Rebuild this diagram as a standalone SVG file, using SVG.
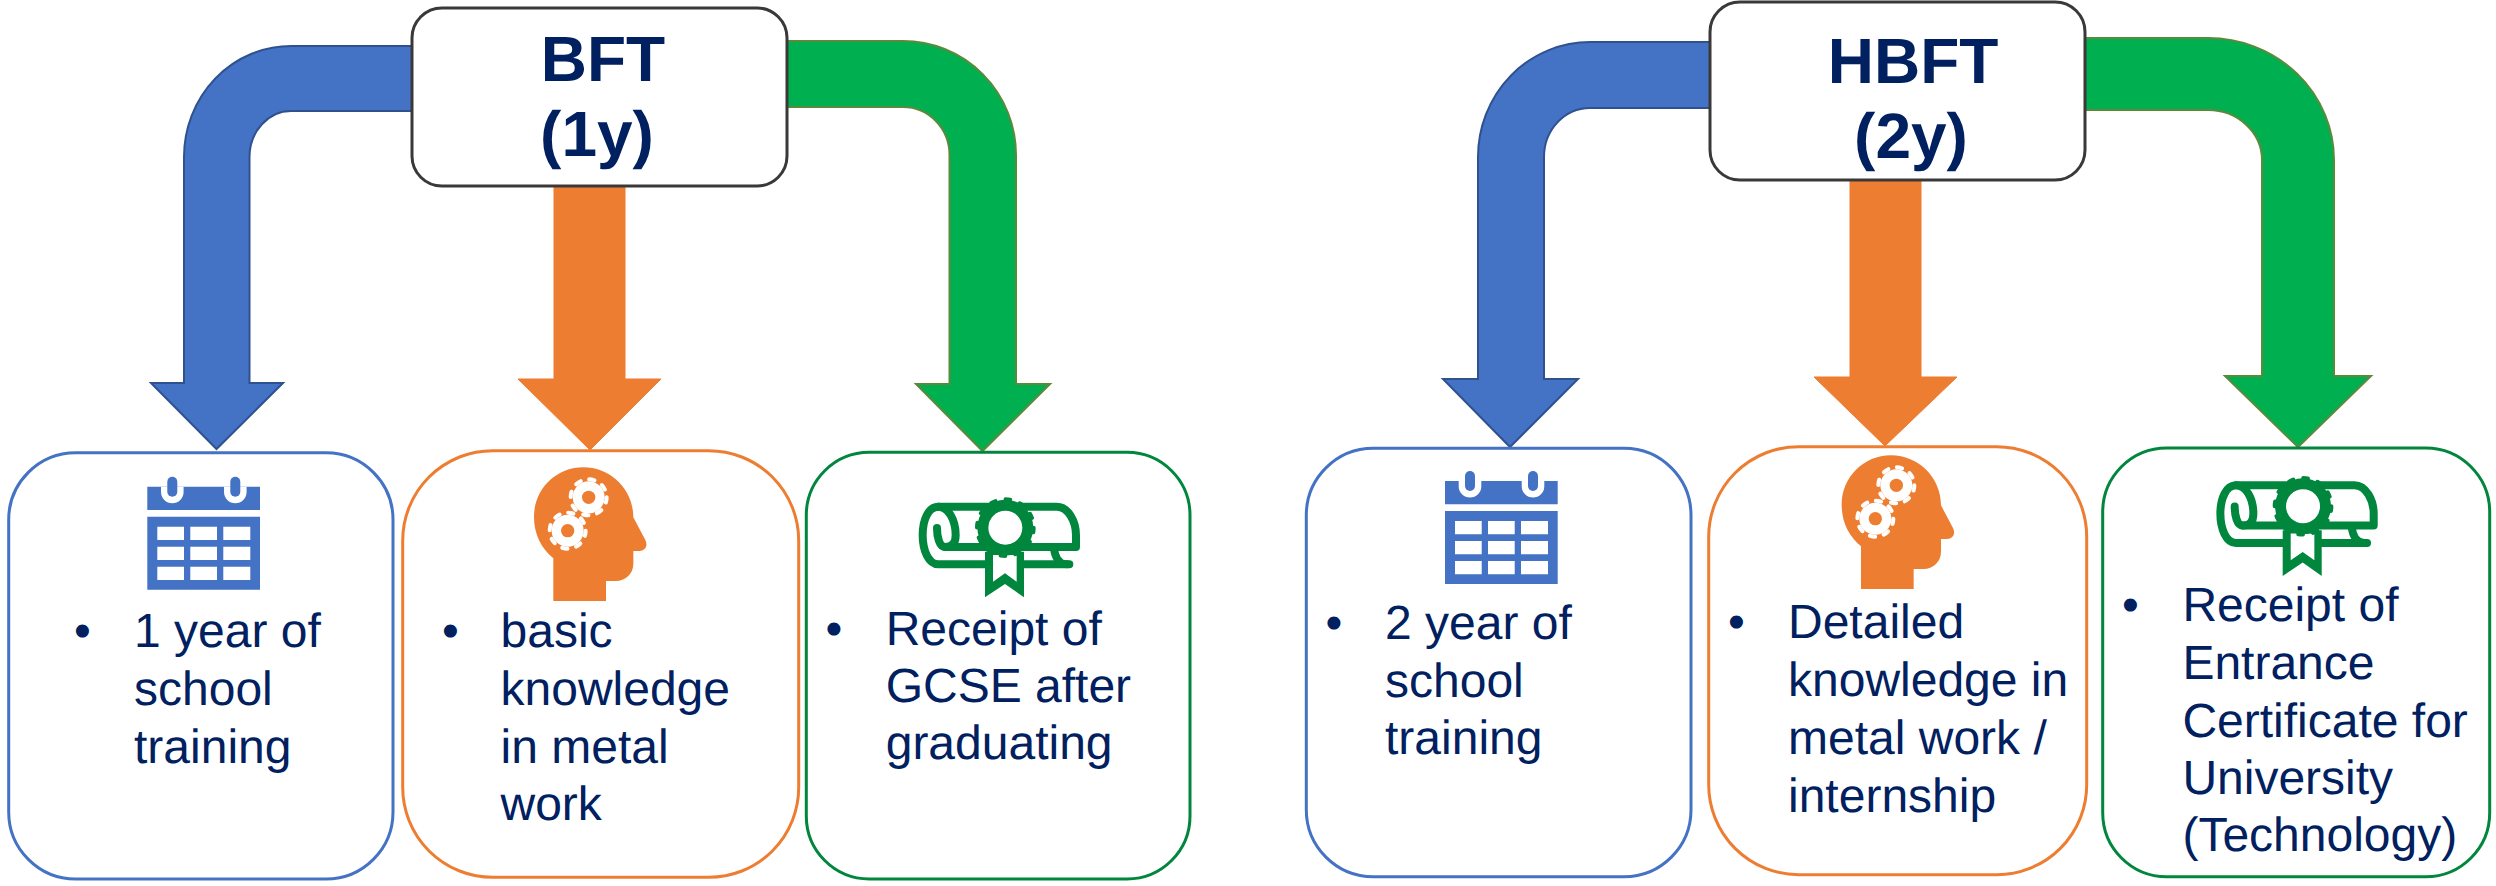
<svg xmlns="http://www.w3.org/2000/svg" xmlns:xlink="http://www.w3.org/1999/xlink" width="2496" height="886" viewBox="0 0 2496 886">
<style>
text{font-family:"Liberation Sans",Arial,sans-serif;fill:#002060;text-rendering:geometricPrecision}
.body{font-size:48px}
.head{font-size:64px;font-weight:bold;text-anchor:middle}
.hbox{fill:#fff;stroke:#3b3838;stroke-width:3}
.b{fill:#fff;stroke-width:3}
.bb{stroke:#4472c4}.bo{stroke:#ed7d31}.bg{stroke:#00863d}
.ab{fill:#4472c4;stroke:#2f528f;stroke-width:2}
.ao{fill:#ed7d31;stroke:#ed7d31;stroke-width:1}
.ag{fill:#00b050;stroke:#5b8a3c;stroke-width:2}
</style>
<defs>
<g id="calendar">
<path fill="#4472c4" d="M147.300 486.700H260V510H147.300ZM147.300 516.700H260V589.700H147.300Z"/>
<path fill="#fff" d="M157.300 526.700H184V540H157.300ZM190.300 526.700H217V540H190.300ZM223.300 526.700H250.300V540H223.300ZM157.300 546.700H184V560H157.300ZM190.300 546.700H217V560H190.300ZM223.300 546.700H250.300V560H223.300ZM157.300 566.700H184V580H157.300ZM190.300 566.700H217V580H190.300ZM223.300 566.700H250.300V580H223.300Z"/>
<path fill="#fff" d="M161 486.700H183.600V492A11.300 11.300 0 0 1 161 492ZM224 486.700H246.600V492A11.300 11.300 0 0 1 224 492Z"/>
<rect x="167.300" y="476.700" width="10" height="20" rx="5" fill="#4472c4"/>
<rect x="230.300" y="476.700" width="10" height="20" rx="5" fill="#4472c4"/>
</g>
<g id="gear">
<circle r="48" fill="#fff"/>
<circle r="54" fill="none" stroke="#fff" stroke-width="12" stroke-linecap="round" stroke-dasharray="16 26.412"/>
<circle r="20" fill="#ed7d31"/>
</g>
<g id="head">
<g transform="translate(390 440) scale(.33333)">
<path fill="#ed7d31" d="M490 483V355C455 325 432 285 432 230C432 148 498 82 580 82C662 82 730 148 730 232L766 300C775 318 765 333 748 333H730V372C730 402 705 423 678 423H648V483Z"/>
<use xlink:href="#gear" href="#gear" transform="translate(596 172)"/>
<use xlink:href="#gear" href="#gear" transform="translate(533 272)"/>
</g>
</g>
<g id="diploma">
<g transform="translate(790 440) scale(.33333)">
<g fill="none" stroke="#00863d" stroke-width="24" stroke-linecap="round" stroke-linejoin="round">
<path d="M838 373H445C415 373 398 330 398 285C398 240 415 200 445 200H800C835 200 858 245 858 285V321H465C448 321 441 290 441 264"/>
<path d="M445 200C475 200 497 240 497 285C497 305 490 321 465 321"/>
<path d="M792 325C795 352 808 373 830 373"/>
</g>
<path fill="#00863d" d="M585 335H702V472L645 432L585 472Z"/>
<path fill="#fff" d="M609 345H680V425L645 400L609 425Z"/>
<circle cx="646" cy="263" r="84" fill="#00863d"/>
<circle cx="646" cy="263" r="85" fill="none" stroke="#00863d" stroke-width="12" stroke-linecap="round" stroke-dasharray="14 30.500"/>
<circle cx="646" cy="263" r="51" fill="#fff"/>
</g>
</g>
</defs>
<rect width="2496" height="886" fill="#fff"/>
<g id="connectors">
<path class="ab" d="M420 46H291A107 111 0 0 0 184 157V383H151L216.500 449L283 383H249.500V157A41.500 46 0 0 1 291 111H420Z"/>
<path class="ao" d="M554 180H625V379H661L590 450L518 379H554Z"/>
<path class="ag" d="M780 41H903A113 114 0 0 1 1016 155V384H1050L982.500 451L916 384H949.500V155A46.500 48 0 0 0 903 107H780Z"/>
<path class="ab" d="M1718 42H1590A112 115 0 0 0 1478 157V379H1443L1510 447L1578 379H1544V157A46 49 0 0 1 1590 108H1718Z"/>
<path class="ao" d="M1850 174H1921V377H1957L1885 446L1814 377H1850Z"/>
<path class="ag" d="M2078 38H2208A126 122 0 0 1 2334 160V376H2371L2298 447L2225 376H2262V160A54 50 0 0 0 2208 110H2078Z"/>
</g>
<g id="node-bft">
<rect class="hbox" x="412" y="8" width="375" height="178" rx="30"/>
<text class="head" x="603" y="81">BFT</text>
<text class="head" x="597" y="156">(1y)</text>
</g>
<g id="node-bft-time">
<rect class="b bb" x="8.700" y="452.700" width="384.300" height="426.300" rx="67"/>
<use xlink:href="#calendar" href="#calendar"/>
<text class="body" x="74" y="646.700">•</text>
<text class="body"><tspan x="134" y="646.700">1 year of</tspan><tspan x="134" y="704.700">school</tspan><tspan x="134" y="762.700">training</tspan></text>
</g>
<g id="node-bft-knowledge">
<rect class="b bo" x="402.700" y="450.700" width="396" height="426.600" rx="90"/>
<use xlink:href="#head" href="#head"/>
<text class="body" x="442" y="646.700">•</text>
<text class="body"><tspan x="500.500" y="646.700">basic</tspan><tspan x="500.500" y="704.700">knowledge</tspan><tspan x="500.500" y="762.700">in metal</tspan><tspan x="500.500" y="819.500">work</tspan></text>
</g>
<g id="node-bft-cert">
<rect class="b bg" x="806.300" y="452.300" width="383.700" height="426.700" rx="63"/>
<use xlink:href="#diploma" href="#diploma"/>
<text class="body" x="825.500" y="645">•</text>
<text class="body"><tspan x="885.700" y="645">Receipt of</tspan><tspan x="885.700" y="702.300">GCSE after</tspan><tspan x="885.700" y="759.300">graduating</tspan></text>
</g>
<g id="node-hbft">
<rect class="hbox" x="1710" y="2" width="375" height="178" rx="30"/>
<text class="head" x="1913" y="83">HBFT</text>
<text class="head" x="1911" y="158">(2y)</text>
</g>
<g id="node-hbft-time">
<rect class="b bb" x="1306.300" y="448.300" width="384.700" height="428.400" rx="67"/>
<use xlink:href="#calendar" href="#calendar" transform="translate(1297.700 -5.700)"/>
<text class="body" x="1325.500" y="639.300">•</text>
<text class="body"><tspan x="1385" y="639.300">2 year of</tspan><tspan x="1385" y="696.700">school</tspan><tspan x="1385" y="754.300">training</tspan></text>
</g>
<g id="node-hbft-knowledge">
<rect class="b bo" x="1708.700" y="446.700" width="378" height="428" rx="90"/>
<use xlink:href="#head" href="#head" transform="translate(1307.670 -12)"/>
<text class="body" x="1728" y="638.300">•</text>
<text class="body"><tspan x="1788" y="638.300">Detailed</tspan><tspan x="1788" y="696">knowledge in</tspan><tspan x="1788" y="753.700">metal work /</tspan><tspan x="1788" y="811.700">internship</tspan></text>
</g>
<g id="node-hbft-cert">
<rect class="b bg" x="2102.700" y="448" width="387" height="428.700" rx="64"/>
<use xlink:href="#diploma" href="#diploma" transform="translate(1297.700 -21.400)"/>
<text class="body" x="2122" y="621.300">•</text>
<text class="body"><tspan x="2182.400" y="621.300">Receipt of</tspan><tspan x="2182.400" y="679.300">Entrance</tspan><tspan x="2182.400" y="736.700">Certificate for</tspan><tspan x="2182.400" y="794.300">University</tspan><tspan x="2182.400" y="851">(Technology)</tspan></text>
</g>
</svg>
